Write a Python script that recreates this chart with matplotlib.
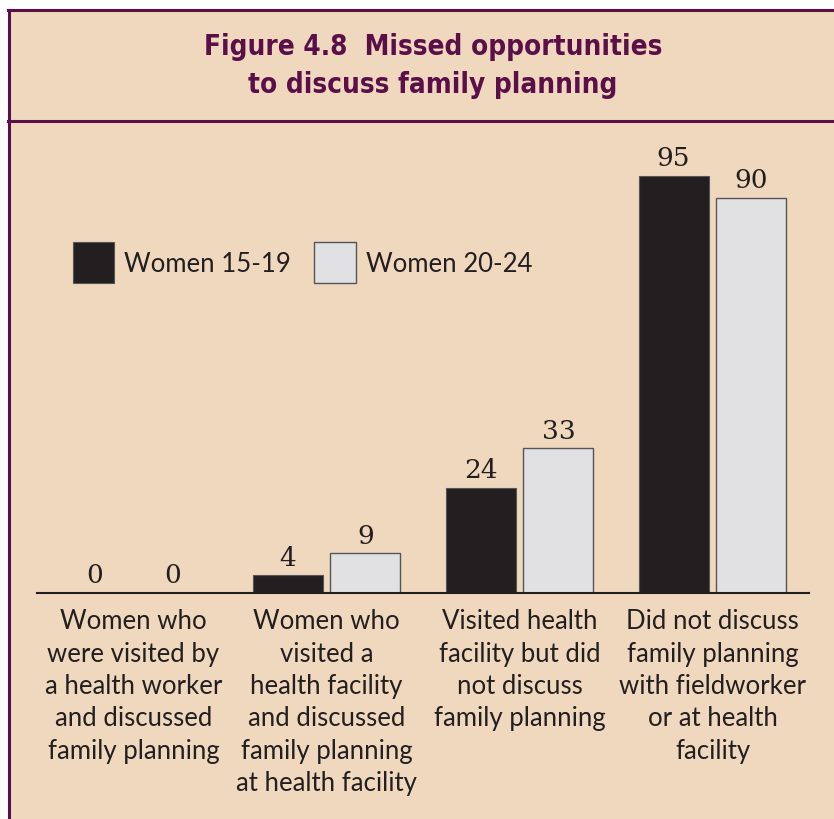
import matplotlib
matplotlib.use("Agg")
import matplotlib.pyplot as plt
from matplotlib.lines import Line2D
from matplotlib.patches import Rectangle

categories = [
    "Women who\nwere visited by\na health worker\nand discussed\nfamily planning",
    "Women who\nvisited a\nhealth facility\nand discussed\nfamily planning\nat health facility",
    "Visited health\nfacility but did\nnot discuss\nfamily planning",
    "Did not discuss\nfamily planning\nwith fieldworker\nor at health\nfacility",
]
women_15_19 = [0, 4, 24, 95]
women_20_24 = [0, 9, 33, 90]
series_names = ["Women 15-19", "Women 20-24"]

BG = "#F0D8BF"
PURPLE = "#5A0F48"
DARK = "#231F20"
LIGHT = "#E1E1E3"

W, H = 834, 820
fig = plt.figure(figsize=(W / 100, H / 100), dpi=100, facecolor="white")

# frame background and borders (pixel coords from top-left)
def fx(px):
    return px / W

def fy(py):
    return 1 - py / H

fig.patches.append(Rectangle((fx(8), 0), 1, fy(11), transform=fig.transFigure,
                             facecolor=BG, edgecolor="none", zorder=-5))
fig.lines.append(Line2D([fx(8), 1], [fy(11), fy(11)], transform=fig.transFigure, color=PURPLE, lw=2.2))
fig.lines.append(Line2D([fx(8), 1], [fy(122), fy(122)], transform=fig.transFigure, color=PURPLE, lw=2.2))
fig.lines.append(Line2D([fx(9), fx(9)], [0, fy(11)], transform=fig.transFigure, color=PURPLE, lw=2.2))

fig.text(fx(433), fy(66), "Figure 4.8  Missed opportunities\nto discuss family planning",
         ha="center", va="center", color=PURPLE, fontsize=20, fontweight="bold",
         fontstretch="condensed", family="DejaVu Sans", linespacing=1.45)

# bar axes: x from -0.5..3.5 maps to 37..809 px, y 0..100 maps to 594..155 px
ax = fig.add_axes([fx(37), fy(594), (809 - 37) / W, (594 - 155) / H])
ax.set_xlim(-0.5, 3.5)
ax.set_ylim(0, 100)
ax.patch.set_visible(False)
for s in ["top", "right", "left"]:
    ax.spines[s].set_visible(False)
ax.spines["bottom"].set_color(DARK)
ax.spines["bottom"].set_linewidth(1.5)
ax.set_yticks([])
ax.set_xticks([])

width = 0.362
off = 0.2017
x = list(range(len(categories)))
b1 = ax.bar([i - off for i in x], women_15_19, width, color=DARK, edgecolor="#555555", lw=0.8,
            label=series_names[0])
b2 = ax.bar([i + off for i in x], women_20_24, width, color=LIGHT, edgecolor="#555555", lw=1.0,
            label=series_names[1])

for bars, vals in ((b1, women_15_19), (b2, women_20_24)):
    for r, v in zip(bars, vals):
        ax.annotate(str(v), (r.get_x() + r.get_width() / 2, v), xytext=(0, 4),
                    textcoords="offset points", ha="center", va="bottom",
                    fontsize=19, color=DARK, family="DejaVu Serif")

for i, c in enumerate(categories):
    ax.annotate(c, (i, 0), xytext=(0, -11), textcoords="offset points",
                ha="center", va="top", fontsize=18.5, color=DARK, family="Lato",
                linespacing=1.37, annotation_clip=False)

leg = fig.legend(handles=[b1, b2], labels=series_names, loc="upper left",
                 bbox_to_anchor=(fx(73), fy(243)), ncol=2, frameon=False,
                 prop={"family": "Lato", "size": 18.5}, handlelength=1.6, handleheight=2.1,
                 handletextpad=0.4, columnspacing=0.9, borderpad=0, borderaxespad=0)
for t in leg.get_texts():
    t.set_color(DARK)

fig.savefig("out.png", dpi=100, facecolor="white")
